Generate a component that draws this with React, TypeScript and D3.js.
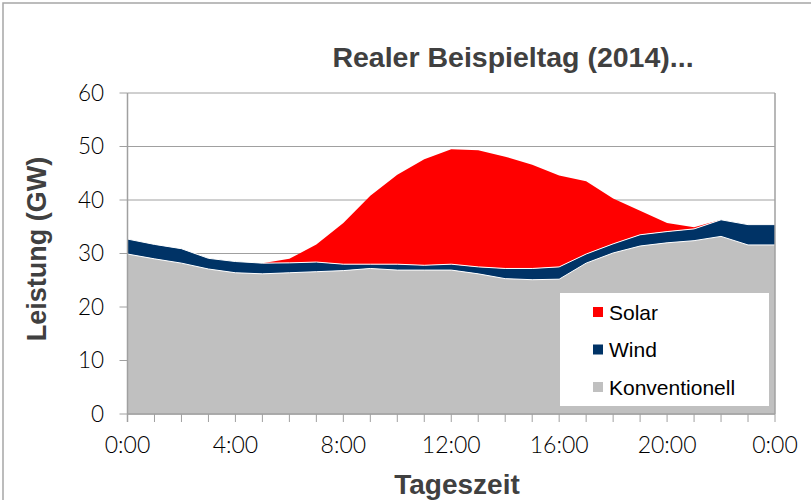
import React from "react";
import * as d3 from "d3";

// hourly values, GW
const hours = [0, 1, 2, 3, 4, 5, 6, 7, 8, 9, 10, 11, 12, 13, 14, 15, 16, 17, 18, 19, 20, 21, 22, 23, 24];
const konventionell = [29.9, 29.0, 28.2, 27.1, 26.4, 26.2, 26.4, 26.6, 26.8, 27.2, 26.9, 26.9, 26.9, 26.2, 25.3, 25.1, 25.2, 28.2, 30.1, 31.4, 32.0, 32.4, 33.2, 31.6, 31.6];
const wind = [2.8, 2.7, 2.7, 2.0, 2.1, 2.0, 1.85, 1.8, 1.2, 0.8, 1.1, 0.9, 1.1, 1.3, 1.9, 2.1, 2.3, 1.7, 1.7, 2.1, 2.1, 2.2, 3.1, 3.8, 3.8];
const solar = [0, 0, 0, 0, 0, 0, 0.75, 3.3, 7.7, 12.8, 16.7, 19.8, 21.5, 21.8, 20.9, 19.4, 17.1, 13.6, 8.5, 4.5, 1.6, 0.3, 0, 0, 0];

const seriesKeys = ["konventionell", "wind", "solar"];
const seriesNames = { konventionell: "Konventionell", wind: "Wind", solar: "Solar" };
const colors = { konventionell: "#c0c0c0", wind: "#003366", solar: "#ff0000" };
const legendOrder = ["solar", "wind", "konventionell"];

const xTickHours = [0, 4, 8, 12, 16, 20, 24];
const xTickLabels = ["0:00", "4:00", "8:00", "12:00", "16:00", "20:00", "0:00"];
const yTicks = [0, 10, 20, 30, 40, 50, 60];

const width = 811;
const height = 500;
const left = 127.5;
const right = 775;
const top = 93;
const bottom = 414;

export default function App() {
  const rows = hours.map((h, i) => ({
    hour: h,
    konventionell: konventionell[i],
    wind: wind[i],
    solar: solar[i],
  }));

  const stacked = d3.stack().keys(seriesKeys)(rows as any);

  const x = d3.scaleLinear().domain([0, 24]).range([left, right]);
  const y = d3.scaleLinear().domain([0, 60]).range([bottom, top]);

  const area = d3
    .area<any>()
    .x((d) => x(d.data.hour))
    .y0((d) => y(d[0]))
    .y1((d) => y(d[1]));

  const topLine = d3
    .line<any>()
    .x((d) => x(d.data.hour))
    .y((d) => y(d[1]));

  const axisFont = "'Lato', 'DejaVu Sans', sans-serif";
  const titleFont = "'Liberation Sans', Arial, sans-serif";

  return (
    <svg
      width={width}
      height={height}
      style={{ position: "absolute", left: 0, top: 0, background: "#fff" }}
    >
      <rect x={3} y={3} width={width + 10} height={height + 10} fill="#fff" stroke="#a6a6a6" strokeWidth={1.5} />

      <text
        x={513}
        y={67}
        textAnchor="middle"
        fontFamily={titleFont}
        fontWeight="bold"
        fontSize={28.5}
        fill="#404040"
      >
        Realer Beispieltag (2014)...
      </text>

      {/* gridlines */}
      {yTicks.map((t) => (
        <line key={"g" + t} x1={left} x2={right} y1={y(t)} y2={y(t)} stroke="#a0a0a0" strokeWidth={1} />
      ))}

      {/* stacked areas */}
      {stacked.map((s) => (
        <path key={s.key} d={area(s as any) || ""} fill={(colors as any)[s.key]} />
      ))}
      {stacked.slice(0, 2).map((s) => (
        <path key={"l" + s.key} d={topLine(s as any) || ""} fill="none" stroke="#fff" strokeWidth={1} />
      ))}

      {/* plot frame */}
      <line x1={right} x2={right} y1={top} y2={bottom} stroke="#a0a0a0" strokeWidth={1.5} />
      <line x1={left} x2={left} y1={top} y2={bottom + 8} stroke="#a0a0a0" strokeWidth={1.5} />
      <line x1={left} x2={right} y1={bottom} y2={bottom} stroke="#a0a0a0" strokeWidth={1.5} />

      {/* y axis */}
      {yTicks.map((t) => (
        <g key={"y" + t}>
          <line x1={left - 8} x2={left} y1={y(t)} y2={y(t)} stroke="#a0a0a0" strokeWidth={1} />
          <text
            x={104}
            y={y(t) + 7.5}
            textAnchor="end"
            fontFamily={axisFont}
            fontWeight={300}
            fontSize={22.5}
            fill="#000"
          >
            {t}
          </text>
        </g>
      ))}

      {/* x axis */}
      {hours.map((h) => (
        <line key={"xt" + h} x1={x(h)} x2={x(h)} y1={bottom} y2={bottom + 8} stroke="#a0a0a0" strokeWidth={1} />
      ))}
      {xTickHours.map((h, i) => (
        <text
          key={"xl" + i}
          x={x(h)}
          y={453}
          textAnchor="middle"
          fontFamily={axisFont}
          fontWeight={300}
          fontSize={23}
          fill="#000"
        >
          {xTickLabels[i]}
        </text>
      ))}

      <text
        x={457}
        y={494}
        textAnchor="middle"
        fontFamily={titleFont}
        fontWeight="bold"
        fontSize={28}
        fill="#404040"
      >
        Tageszeit
      </text>
      <text
        transform={`translate(46,249) rotate(-90)`}
        textAnchor="middle"
        fontFamily={titleFont}
        fontWeight="bold"
        fontSize={27}
        fill="#404040"
      >
        Leistung (GW)
      </text>

      {/* legend */}
      <rect x={560} y={293} width={209} height={113} fill="#fff" />
      {legendOrder.map((k, i) => (
        <g key={"lg" + k} transform={`translate(593,${312 + i * 37.5})`}>
          <rect x={0} y={-5} width={10} height={10} fill={(colors as any)[k]} />
          <text x={16} y={7.5} fontFamily={titleFont} fontSize={21} fill="#000">
            {(seriesNames as any)[k]}
          </text>
        </g>
      ))}
    </svg>
  );
}
